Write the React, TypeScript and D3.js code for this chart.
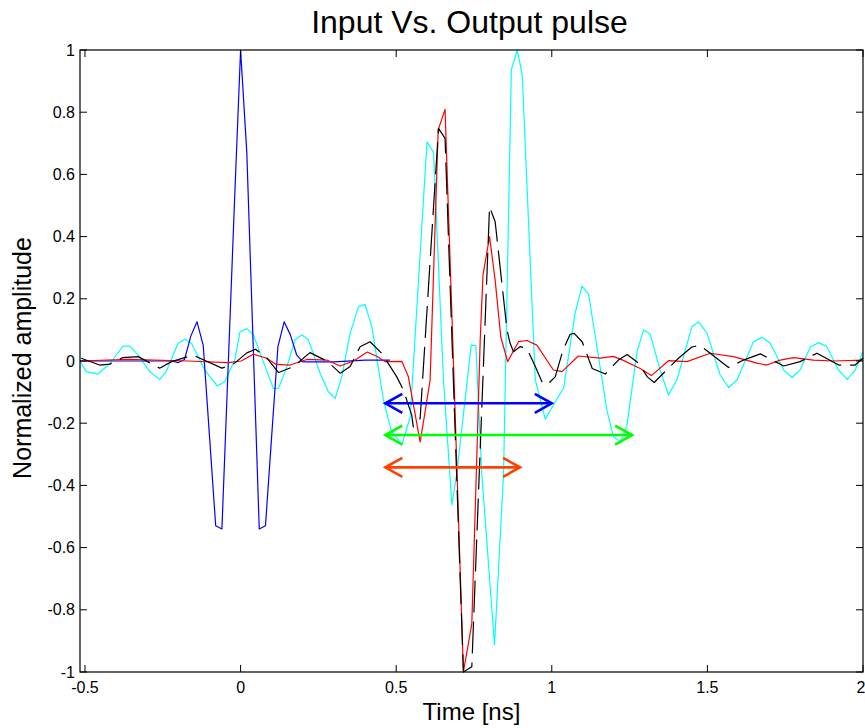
import React from "react";
import * as d3 from "d3";

const W = 865;
const H = 728;

const xDomain: [number, number] = [-0.516, 2];
const yDomain: [number, number] = [-1, 1];
const xTicks = [-0.5, 0, 0.5, 1, 1.5, 2];
const xTickLabels = ["-0.5", "0", "0.5", "1", "1.5", "2"];
const yTicks = [-1, -0.8, -0.6, -0.4, -0.2, 0, 0.2, 0.4, 0.6, 0.8, 1];
const yTickLabels = ["-1", "-0.8", "-0.6", "-0.4", "-0.2", "0", "0.2", "0.4", "0.6", "0.8", "1"];

const titleText = "Input Vs. Output pulse";
const xLabelText = "Time [ns]";
const yLabelText = "Normalized amplitude";

// [time (ns), normalized amplitude]
const inputPulse: [number, number][] = [
  [-0.516, 0], [-0.22, 0], [-0.2, -0.005], [-0.18, 0.005], [-0.16, 0.08], [-0.14, 0.126],
  [-0.12, 0.05], [-0.1, -0.24], [-0.08, -0.53], [-0.06, -0.54], [-0.02, 0.5], [0, 1.0],
  [0.02, 0.67], [0.06, -0.54], [0.08, -0.53], [0.1, -0.24], [0.12, 0.046], [0.14, 0.126],
  [0.16, 0.084], [0.18, 0.02], [0.2, -0.003], [0.3, -0.003], [0.4, 0.003], [0.48, 0.003],
];

const cyanPulse: [number, number][] = [
  [-0.516, 0], [-0.496, -0.034], [-0.458, -0.042], [-0.42, -0.008], [-0.378, 0.048], [-0.356, 0.048],
  [-0.329, 0.019], [-0.292, -0.034], [-0.26, -0.059], [-0.239, -0.034], [-0.201, 0.057], [-0.179, 0.07],
  [-0.158, 0.057], [-0.115, -0.029], [-0.075, -0.08], [-0.051, -0.067], [-0.019, 0.003], [-0.002, 0.093],
  [0.02, 0.104], [0.041, 0.084], [0.079, -0.018], [0.105, -0.088], [0.122, -0.088], [0.149, -0.018],
  [0.175, 0.068], [0.197, 0.084], [0.218, 0.068], [0.256, -0.04], [0.282, -0.099], [0.304, -0.12],
  [0.325, -0.051], [0.352, 0.089], [0.379, 0.175], [0.4, 0.182], [0.422, 0.109], [0.459, -0.125],
  [0.484, -0.222], [0.518, -0.27], [0.545, -0.18], [0.599, 0.705], [0.62, 0.671], [0.652, -0.061],
  [0.679, -0.463], [0.695, -0.36], [0.741, 0.051], [0.756, 0.05], [0.775, -0.361], [0.816, -0.913],
  [0.845, -0.361], [0.87, 0.936], [0.889, 1.0], [0.905, 0.92], [0.947, -0.061], [0.979, -0.187],
  [1.011, -0.131], [1.038, -0.087], [1.075, 0.154], [1.097, 0.241], [1.118, 0.215], [1.14, 0.078],
  [1.177, -0.158], [1.198, -0.243], [1.22, -0.26], [1.241, -0.211], [1.274, 0.03], [1.295, 0.1],
  [1.316, 0.087], [1.348, -0.029], [1.375, -0.109], [1.402, -0.061], [1.45, 0.11], [1.472, 0.126],
  [1.499, 0.089], [1.541, -0.045], [1.568, -0.085], [1.595, -0.061], [1.648, 0.062], [1.675, 0.076],
  [1.702, 0.057], [1.745, -0.029], [1.772, -0.053], [1.798, -0.029], [1.831, 0.046], [1.858, 0.059],
  [1.884, 0.046], [1.921, -0.029], [1.949, -0.059], [1.975, -0.029], [2.0, 0.03],
];

const redPulse: [number, number][] = [
  [-0.516, 0], [-0.362, 0.005], [-0.169, 0], [-0.04, -0.005], [0.002, 0], [0.041, 0.022],
  [0.084, 0.009], [0.114, -0.011], [0.159, -0.013], [0.213, 0.005], [0.277, 0.003], [0.32, -0.016],
  [0.363, 0], [0.407, 0.029], [0.442, 0.013], [0.464, -0.002], [0.518, -0.001], [0.539, -0.05],
  [0.577, -0.26], [0.593, -0.163], [0.609, -0.061], [0.635, 0.743], [0.657, 0.809], [0.686, -0.061],
  [0.716, -1.0], [0.743, -0.845], [0.759, -0.309], [0.77, 0.068], [0.779, 0.277], [0.8, 0.4],
  [0.818, 0.26], [0.836, 0.078], [0.858, -0.002], [0.893, 0.062], [0.92, 0.066], [0.952, 0.051],
  [1.005, -0.029], [1.033, -0.034], [1.085, 0.016], [1.156, 0.009], [1.197, 0.015], [1.23, 0.002],
  [1.284, -0.024], [1.32, -0.047], [1.375, 0.001], [1.434, -0.002], [1.509, 0.025], [1.584, 0.014],
  [1.659, -0.007], [1.691, -0.013], [1.734, 0.003], [1.777, 0.011], [1.841, 0.003], [1.905, 0],
  [2.0, 0.003],
];

const blackPulse: [number, number][] = [
  [-0.512, 0.009], [-0.453, -0.013], [-0.42, -0.01], [-0.378, 0.011], [-0.329, 0.014], [-0.26, -0.023],
  [-0.222, -0.002], [-0.153, 0.019], [-0.06, -0.023], [-0.023, -0.01], [0.02, 0.026], [0.048, 0.038],
  [0.084, 0.01], [0.122, -0.037], [0.17, -0.018], [0.223, 0.027], [0.277, 0], [0.32, -0.039],
  [0.352, -0.018], [0.384, 0.046], [0.416, 0.062], [0.454, 0.024], [0.502, -0.051], [0.523, -0.093],
  [0.55, -0.174], [0.555, -0.212], [0.577, -0.185], [0.636, 0.748], [0.657, 0.716], [0.716, -1.0],
  [0.743, -0.983], [0.8, 0.496], [0.818, 0.448], [0.856, 0.1], [0.866, 0.057], [0.877, 0.03],
  [0.898, 0.046], [0.92, 0.041], [0.947, -0.018], [0.968, -0.066], [0.984, -0.077], [1.011, -0.051],
  [1.036, 0.035], [1.059, 0.086], [1.072, 0.089], [1.098, 0.061], [1.13, -0.024], [1.172, -0.042],
  [1.214, 0.003], [1.242, 0.021], [1.279, -0.007], [1.307, -0.051], [1.329, -0.069], [1.407, 0.009],
  [1.45, 0.045], [1.477, 0.05], [1.568, -0.021], [1.616, 0.003], [1.67, 0.023], [1.745, -0.016],
  [1.798, -0.002], [1.852, 0.025], [1.922, -0.013], [1.975, -0.013], [2.0, 0.01],
];

// double-headed arrows: [start time, end time, amplitude level]
const arrowBlue = [0.465, 1.0, -0.136];
const arrowGreen = [0.465, 1.258, -0.238];
const arrowRed = [0.465, 0.898, -0.342];

const FONT = "'Liberation Sans', Arial, Helvetica, sans-serif";

export default function App() {
  const left = 80, right = 863, top = 50, bottom = 672;
  const x = d3.scaleLinear().domain(xDomain).range([left, right]);
  const y = d3.scaleLinear().domain(yDomain).range([bottom, top]);
  const line = d3.line<[number, number]>().x((d) => x(d[0])).y((d) => y(d[1]));

  const arrow = (a: number[], color: string) => {
    const x1 = x(a[0]), x2 = x(a[1]), yy = y(a[2]);
    const hl = 17, hw = 9.5;
    return (
      <g stroke={color} strokeWidth={2.6} fill="none" strokeLinejoin="miter">
        <line x1={x1} y1={yy} x2={x2} y2={yy} />
        <polyline points={`${x1 + hl},${yy - hw} ${x1},${yy} ${x1 + hl},${yy + hw}`} />
        <polyline points={`${x2 - hl},${yy - hw} ${x2},${yy} ${x2 - hl},${yy + hw}`} />
      </g>
    );
  };

  return (
    <svg
      width={W}
      height={H}
      style={{ position: "absolute", left: 0, top: 0, background: "#fff" }}
      fontFamily={FONT}
    >
      <rect x={0} y={0} width={W} height={H} fill="#fff" />
      <defs>
        <clipPath id="plotClip">
          <rect x={left} y={top - 1} width={right - left} height={bottom - top + 2} />
        </clipPath>
      </defs>
      <g clipPath="url(#plotClip)" fill="none" strokeLinejoin="round">
        <path d={line(cyanPulse) || ""} stroke="#00ffff" strokeWidth={1.2} />
        <path d={line(inputPulse) || ""} stroke="#0000ff" strokeWidth={1.2} />
        <path d={line(redPulse) || ""} stroke="#ff0000" strokeWidth={1.2} />
        <path d={line(blackPulse) || ""} stroke="#000000" strokeWidth={1.2} strokeDasharray="32 9" />
      </g>
      {arrow(arrowBlue, "#0000ff")}
      {arrow(arrowGreen, "#00ff00")}
      {arrow(arrowRed, "#ff4000")}

      {/* axes box */}
      <rect x={left} y={top} width={right - left} height={bottom - top} fill="none" stroke="#000" strokeWidth={1.2} />
      {xTicks.map((t, i) => (
        <g key={"xt" + i}>
          <line x1={x(t)} x2={x(t)} y1={bottom} y2={bottom - 7} stroke="#000" strokeWidth={1} />
          <line x1={x(t)} x2={x(t)} y1={top} y2={top + 7} stroke="#000" strokeWidth={1} />
          <text
            x={i === xTicks.length - 1 ? x(t) - 2 : x(t)}
            y={bottom + 21}
            textAnchor="middle"
            fontSize={16}
            fill="#000"
          >
            {xTickLabels[i]}
          </text>
        </g>
      ))}
      {yTicks.map((t, i) => (
        <g key={"yt" + i}>
          <line x1={left} x2={left + 7} y1={y(t)} y2={y(t)} stroke="#000" strokeWidth={1} />
          <line x1={right} x2={right - 7} y1={y(t)} y2={y(t)} stroke="#000" strokeWidth={1} />
          <text x={left - 5} y={y(t) + 5.5} textAnchor="end" fontSize={16} fill="#000">
            {yTickLabels[i]}
          </text>
        </g>
      ))}
      <text x={(left + right) / 2 - 2} y={33} textAnchor="middle" fontSize={32} fill="#000">
        {titleText}
      </text>
      <text x={(left + right) / 2} y={720} textAnchor="middle" fontSize={24} fill="#000">
        {xLabelText}
      </text>
      <text
        transform={`translate(31, ${(top + bottom) / 2 - 3}) rotate(-90)`}
        textAnchor="middle"
        fontSize={25}
        fill="#000"
      >
        {yLabelText}
      </text>
    </svg>
  );
}
